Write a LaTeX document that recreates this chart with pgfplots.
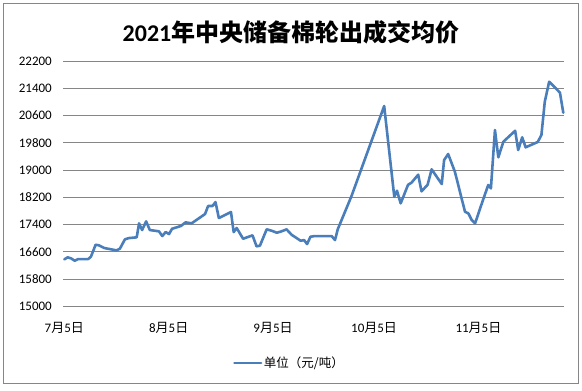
\documentclass[border=0pt]{standalone}
\usepackage{fontspec}
\setmainfont{Carlito}
\newfontfamily\cjk{Noto Sans CJK SC}
\usepackage{pgfplots}
\pgfplotsset{compat=1.18}
\definecolor{lineblue}{RGB}{74,126,187}
\definecolor{gridgray}{RGB}{134,134,134}
\newcommand\cj[1]{{\cjk #1}}
\begin{document}
\begin{tikzpicture}[x=1bp,y=1bp]
\useasboundingbox (0,0) rectangle (582,390);
\draw[gridgray, line width=0.9bp] (3.5,6.5) rectangle (578.5,386.5);
\node[anchor=center, inner sep=0pt, font=\fontsize{24bp}{28bp}\selectfont\bfseries] at (291,358) {2021\cj{年中央储备棉轮出成交均价}};
\begin{axis}[
  at={(63.3bp,83.7bp)}, anchor=south west,
  scale only axis, width=501bp, height=245.3bp,
  xmin=-0.3, xmax=148.5, ymin=15000, ymax=22200,
  ytick={15000,15800,...,22200},
  scaled y ticks=false,
  xtick={0,31,62,92,123},
  xticklabels={7\cj{月}5\cj{日},8\cj{月}5\cj{日},9\cj{月}5\cj{日},10\cj{月}5\cj{日},11\cj{月}5\cj{日}},
  axis line style={draw=none},
  ymajorgrids, grid style={gridgray, line width=0.9bp},
  tick style={draw=none},
  major tick length=0pt,
  /pgf/number format/1000 sep={},
  /pgf/number format/fixed,
  /pgf/number format/assume math mode=true,
  tick label style={font=\fontsize{13bp}{15bp}\selectfont, inner sep=0pt},
  yticklabel style={anchor=east, xshift=-11.3bp},
  xticklabel style={anchor=center, yshift=-21.4bp},
  legend style={at={(axis description cs:0.451,-0.231)}, anchor=center, draw=none, fill=none,
    font=\fontsize{12.5bp}{15bp}\selectfont, inner sep=0pt, nodes={inner sep=1.5bp}},
  legend image code/.code={\draw[#1] (0bp,0bp) -- (26.7bp,0bp);},
  clip=false,
]
\addplot[lineblue, line width=2.6bp, line join=round, line cap=round] coordinates {
(0.0,16378) (1.0,16437) (2.0,16407) (3.1,16337) (4.1,16387) (7.1,16387) (7.9,16455)
(9.3,16807) (10.3,16789) (11.9,16710) (15.5,16642) (16.5,16690) (18.0,16965) (19.2,17003)
(21.5,17024) (22.2,17435) (23.1,17238) (24.3,17494) (25.4,17238) (26.9,17218) (28.1,17200)
(29.1,17062) (30.1,17179) (31.1,17121) (32.0,17276) (34.6,17356) (36.0,17464) (37.8,17435)
(41.8,17708) (42.7,17943) (44.0,17943) (44.9,18060) (45.9,17590) (49.5,17767) (50.3,17179)
(51.2,17297) (53.1,16983) (55.9,17083) (57.1,16760) (58.1,16780) (60.1,17259) (61.6,17218)
(63.1,17159) (64.5,17200) (66.0,17259) (67.5,17100) (70.2,16924) (71.2,16945) (72.1,16827)
(73.1,17042) (74.4,17062) (79.4,17062) (80.4,16945) (81.2,17259) (85.3,18236) (95.0,20879)
(98.0,18216) (98.8,18392) (99.9,18022) (102.1,18568) (103.1,18627) (105.1,18862) (106.1,18374)
(107.9,18568) (109.1,19020) (112.1,18589) (112.8,19293) (114.0,19470) (116.0,18950) (119.0,17776)
(120.0,17728) (121.0,17532) (122.0,17435) (123.5,17876) (125.9,18560) (126.7,18462) (127.9,20174)
(128.9,19373) (130.4,19831) (133.9,20153) (134.8,19587) (136.0,19960) (137.0,19666) (140.6,19822)
(141.7,20027) (142.7,21005) (144.0,21592) (145.7,21428) (147.2,21270) (148.2,20682)
};
\addlegendentry{\cj{单位（元/吨）}}
\end{axis}
\end{tikzpicture}
\end{document}
